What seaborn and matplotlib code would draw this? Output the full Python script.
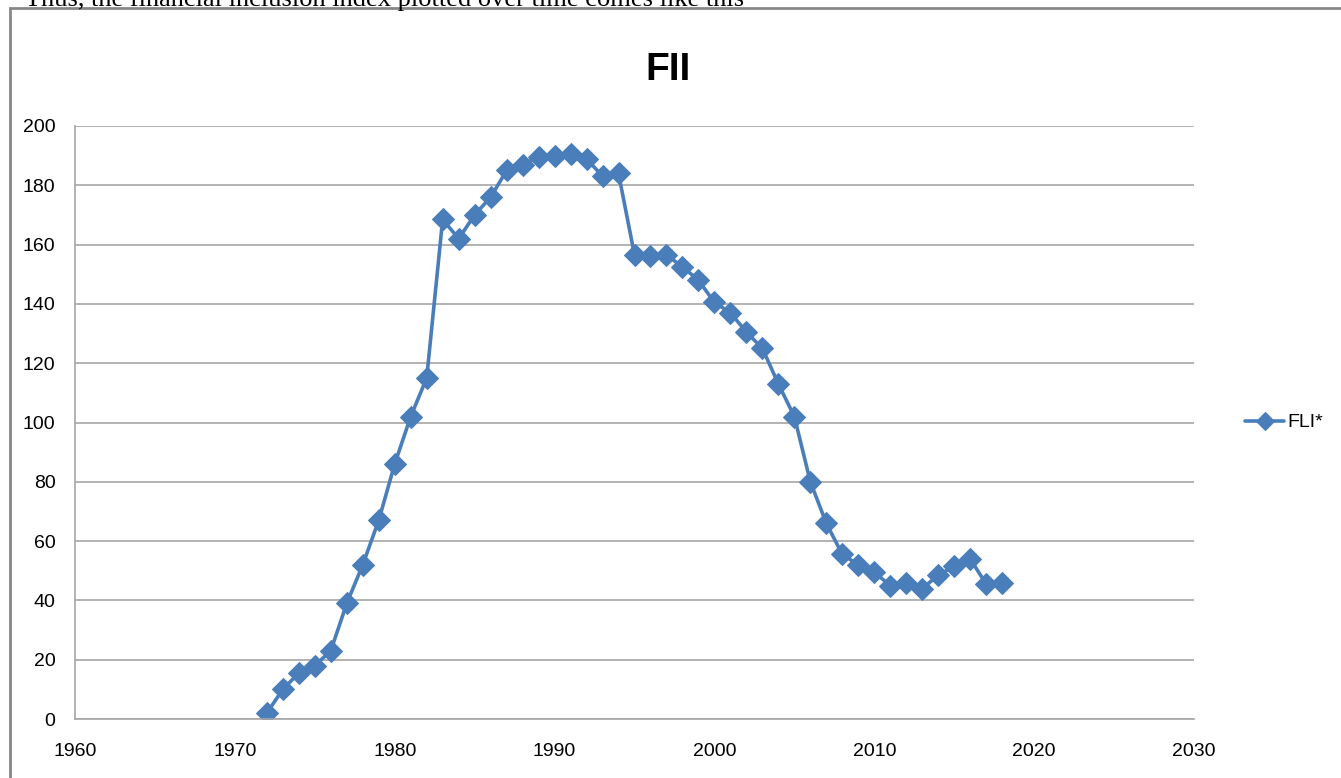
import numpy as np
import pandas as pd
import matplotlib
matplotlib.use("Agg")
import matplotlib.pyplot as plt
import seaborn as sns

# ── DATA ───
years = list(range(1972, 2019))
fli = [2, 10, 15.5, 18, 23, 39, 52, 67, 86, 102,
       115, 168.5, 162, 170, 176, 185, 187, 189.5, 190, 190.5,
       189, 183, 184, 156.5, 156, 156.5, 152.5, 148, 140.5, 137,
       130.5, 125, 113, 102, 80, 66, 55.5, 52, 49.5, 45,
       46, 44, 48.5, 51.5, 54, 45.5, 46]
x_ticks = [1960, 1970, 1980, 1990, 2000, 2010, 2020, 2030]
y_ticks = [0, 20, 40, 60, 80, 100, 120, 140, 160, 180, 200]

df = pd.DataFrame({"year": years, "FLI*": fli})

sns.set_theme(style="white")
plt.rcParams['font.family'] = ['Liberation Sans Narrow', 'Liberation Sans', 'DejaVu Sans']
plt.rcParams['text.color'] = 'black'

fig = plt.figure(figsize=(13.41, 7.78), dpi=100)
ax = fig.add_axes([75/1341, 1 - 719/778, (1194 - 75)/1341, (719 - 126)/778])

blue = '#4A7EBB'
sns.lineplot(data=df, x="year", y="FLI*", ax=ax, color=blue, linewidth=2.6,
             marker='D', markersize=11.5, markeredgecolor=blue, label="FLI*")

ax.set_xlim(1960, 2030)
ax.set_ylim(0, 200)
ax.set_xticks(x_ticks)
ax.set_yticks(y_ticks)
ax.set_xlabel("")
ax.set_ylabel("")
ax.yaxis.grid(True, color='#A6A6A6', linewidth=1.2)
ax.xaxis.grid(False)
for s in ['top', 'right']:
    ax.spines[s].set_visible(False)
for s in ['left', 'bottom']:
    ax.spines[s].set_color('#A6A6A6')
    ax.spines[s].set_linewidth(1.2)
ax.tick_params(axis='both', direction='out', length=7, width=1.2, color='#A6A6A6',
               labelsize=14, labelcolor='black', pad=7)
ax.tick_params(axis='x', pad=10)

leg = ax.legend(loc='center left', bbox_to_anchor=(1.03, 0.5), frameon=False,
                fontsize=14, handlelength=2.0, handletextpad=0.2, markerscale=0.8)
for t in leg.get_texts():
    t.set_color('black')

fig.text(668/1341, 1 - 70/778, "FII", ha='center', va='center', fontsize=28,
         fontweight='bold', color='black')

# chart frame
frame = plt.Rectangle((10/1341, -0.01), 1.2, 1 - 8/778 + 0.01, transform=fig.transFigure,
                      fill=False, edgecolor='#878787', linewidth=2)
fig.patches.append(frame)

# cut-off sentence above the chart
fig.text(25/1341, 1.0, "Thus, the financial inclusion index plotted over time comes like this",
         ha='left', va='center', fontsize=19, color='black',
         family=['Liberation Serif', 'DejaVu Serif'])

fig.savefig("out.png", dpi=100)
